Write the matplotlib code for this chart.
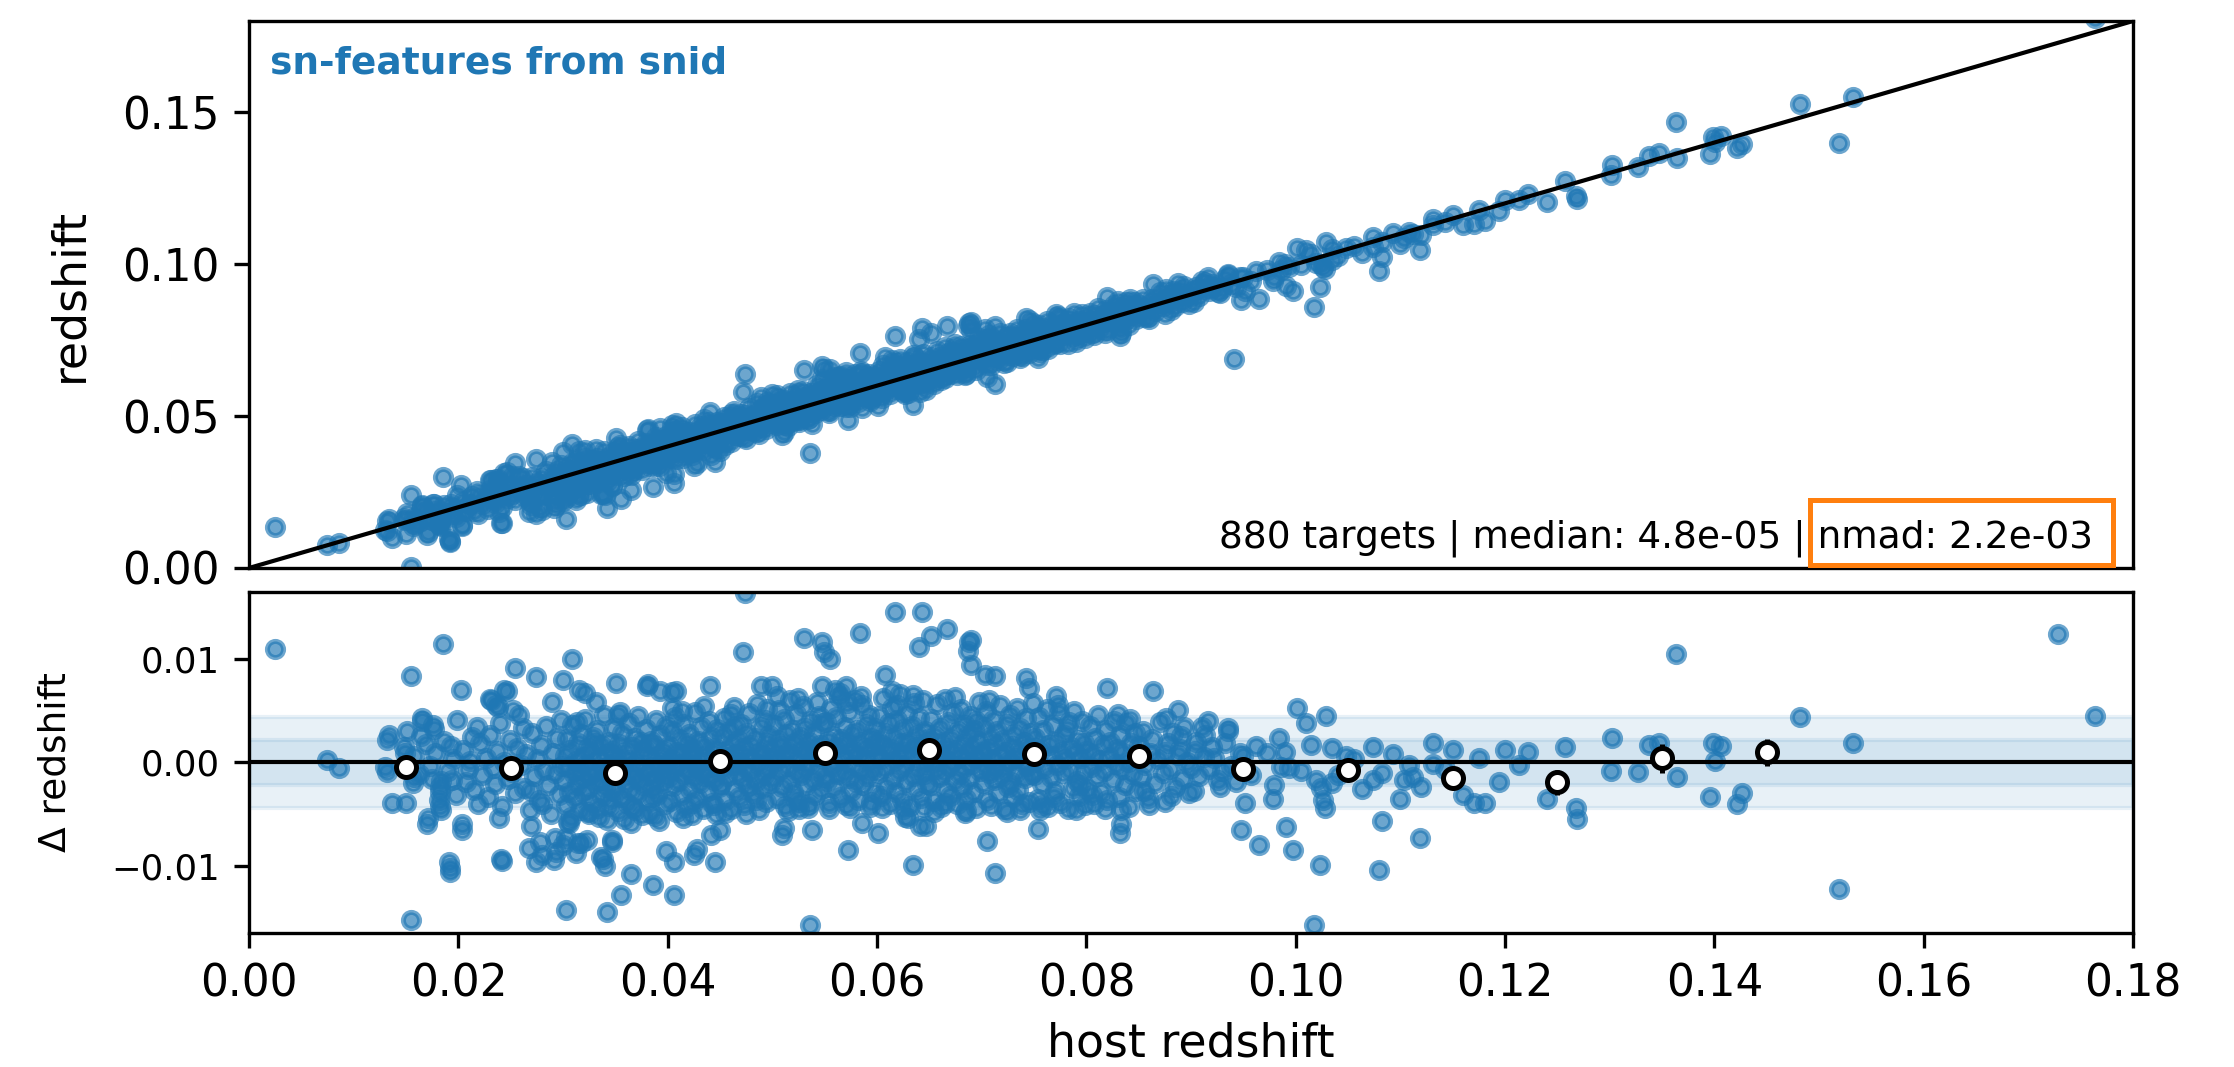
import numpy as np
import matplotlib
matplotlib.use('Agg')
import matplotlib.pyplot as plt
from matplotlib.patches import Rectangle

# all values below in units of 1e-3 (host redshift, redshift - host redshift)
# sparse points read one by one, low redshift side
low_host = [2.5, 18.5, 15.5, 15.5, 7.4, 8.6, 13.2, 13.2, 15.1, 16.5, 17.7, 14.9, 13.7, 15.0, 15.7, 17.0,
            18.1, 18.3, 19.1, 19.2, 19.2, 20.2, 19.9, 19.4, 18.3, 20.3, 21.3, 23.0, 23.8, 24.6, 25.4, 27.4,
            24.1, 26.2, 28.9, 30.0, 30.9, 31.5, 32.1, 33.1, 35.1, 35.2, 27.8, 28.0, 29.3, 30.3, 31.4, 32.3,
            29.2, 30.3, 34.2, 35.5, 36.5, 38.6, 40.6, 34.7, 33.6, 34.0, 39.8, 40.6, 42.8, 44.5, 44.1, 45.0,
            47.4, 47.2, 53.0, 54.7, 54.9, 55.5, 58.4, 61.7, 64.3, 64.0, 60.8, 44.0, 48.9, 50.0, 54.7, 56.0,
            57.0, 38.0, 40.4, 53.6, 63.4, 57.2, 53.8, 50.9, 51.1, 58.6, 60.1, 52.5, 62.7, 64.1, 23.1, 23.6,
            24.4, 38.1, 39.3, 40.8, 41.4, 16.5, 17.6, 13.4, 14.8, 13.0, 15.8, 17.1, 20.3, 18.2, 18.2, 24.2,
            26.7, 27.4, 29.1, 30.0, 31.7, 31.2, 33.8, 34.7, 30.6, 26.9, 42.5]
low_dz = [11.0, 11.5, 8.4, -15.2, 0.2, -0.5, -0.9, 2.2, 3.0, 4.0, 3.2, 0.9, -3.9, -3.9, -2.0, -6.0,
          -3.6, -4.6, -9.6, -10.2, -10.6, 7.0, 4.1, -1.7, -1.8, -6.5, 2.5, 6.1, 5.4, 6.9, 9.1, 8.3,
          -9.3, 3.3, 5.9, 8.0, 10.0, 7.0, 6.7, 5.9, 7.7, 4.6, -7.7, -9.0, -8.7, -7.3, -7.8, -7.5,
          -7.3, -14.3, -14.5, -12.8, -10.8, -11.9, -12.8, -7.5, -9.1, -10.0, -8.6, -9.6, -8.4, -9.6, -7.0, -6.5,
          16.4, 10.7, 12.0, 11.7, 10.7, 10.0, 12.5, 14.6, 14.6, 11.2, 8.5, 7.4, 7.4, 7.4, 7.4, 7.0,
          7.4, 7.4, 6.8, -15.7, -9.9, -8.5, -6.5, -7.0, -6.3, -5.9, -6.8, -4.5, -5.3, -6.1, 6.0, 5.6,
          7.0, 7.6, 6.9, 6.9, 5.0, 4.3, 3.6, 2.7, 1.5, -0.4, -1.4, -5.4, -6.0, -2.9, -4.2, -9.5,
          -8.3, -9.6, -9.4, -8.0, -7.8, -8.8, -9.3, -7.7, -5.9, -6.1, -9.0]

# sparse points read one by one, middle and high redshift side
mid_host = [65.2, 66.7, 68.8, 69.0, 68.7, 69.0, 70.3, 71.3, 74.2, 74.5, 77.1, 82.0, 86.4, 88.8, 91.6, 93.5,
            100.1, 101.0, 102.9, 98.4, 101.5, 103.5, 104.8, 107.4, 113.1, 115.0, 113.1, 116.0, 117.0, 118.1,
            110.0, 108.2, 111.9, 108.0, 102.3, 101.7, 99.7, 99.1, 94.8, 96.5, 97.8, 95.2, 102.6, 102.8, 95.0,
            97.3, 98.6, 99.4, 101.9, 102.4, 103.5, 107.4, 108.2, 110.3, 111.2, 110.8, 71.3, 70.5, 75.4, 83.3,
            83.3, 83.2, 68.4, 64.7, 63.0, 75.8, 79.0, 85.5, 88.1, 90.3, 92.6, 89.0, 90.5, 92.0, 87.5, 90.0,
            93.0, 91.2, 95.7, 96.2, 97.9, 99.0, 100.5, 104.0, 105.6, 106.3, 109.3, 112.0, 114.3, 117.5, 119.4,
            120.0, 94.1]
mid_dz = [12.2, 12.9, 11.7, 11.9, 10.8, 9.4, 8.5, 8.4, 8.2, 7.2, 6.4, 7.2, 6.9, 5.1, 4.0, 3.3,
          5.3, 3.8, 4.5, 2.4, 1.7, 1.4, 0.6, 1.5, 1.9, 1.2, -0.1, -3.1, -3.9, -3.9,
          -3.5, -5.7, -7.3, -10.4, -9.9, -15.7, -8.5, -6.2, -6.5, -8.0, -3.5, -3.9, -3.6, -4.4, 0.6,
          0.9, -0.4, -0.5, -1.7, -2.5, -2.0, -1.7, -1.0, -1.7, -1.4, -0.2, -10.7, -7.6, -6.4, -4.6,
          -6.0, -6.8, -4.9, -6.1, -5.4, -4.1, -4.6, -2.8, -3.2, -2.8, -1.7, 2.6, 2.0, 1.5, 1.0, -0.5,
          -0.8, 0.5, -1.2, 1.6, -2.2, 1.0, -0.8, -1.2, 0.3, -2.6, 0.8, -2.4, -0.6, 0.4, -1.9,
          1.2, -25.4]

tail_host = [121.3, 122.2, 124.0, 125.7, 126.8, 126.9, 130.2, 130.1, 132.7, 133.8, 134.7, 136.3, 136.4,
             139.9, 140.6, 140.1, 139.6, 142.6, 142.2, 148.2, 153.2, 151.9, 172.8, 176.4]
tail_dz = [-0.2, 1.0, -3.5, 1.5, -4.4, -5.5, 2.4, -0.8, -0.9, 1.7, 1.9, 10.5, -1.4,
           1.9, 1.6, 0.1, -3.3, -3.0, -4.0, 4.4, 1.9, -12.2, 12.4, 4.5]

# dense core, estimated
core_host = [15.8, 16.2, 16.9, 17.3, 17.8, 18.2, 18.6, 19.0, 19.5, 19.8, 20.4, 20.7, 21.1, 21.5, 21.8, 16.4,
             17.5, 19.3, 20.9, 21.9,
             22.1, 22.3, 22.6, 22.8, 23.0, 23.3, 23.5, 23.7, 24.0, 24.2, 24.4, 24.7, 24.9, 25.1, 25.4, 25.6,
             25.8, 26.0, 26.3, 26.5, 26.8, 27.0, 27.2, 27.5, 27.7, 27.9, 28.2, 28.4, 28.6, 28.8, 29.0, 29.2,
             29.4, 29.6, 29.8, 29.9, 23.9, 25.2, 26.9, 28.0,
             30.1, 30.2, 30.3, 30.4, 30.5, 30.6, 30.7, 30.8, 30.9, 31.0, 31.1, 31.2, 31.3, 31.4, 31.5, 31.6,
             31.7, 31.8, 31.9, 32.0, 32.1, 32.2, 32.3, 32.4, 32.5, 32.6, 32.7, 32.8, 32.9, 33.0, 33.1, 33.2,
             33.3, 33.4, 33.5, 33.6, 33.7, 33.8, 33.9, 34.0, 34.1, 34.2, 34.3, 34.4, 34.5, 34.6, 34.7, 34.8,
             34.9, 30.45, 31.35, 32.35, 33.45, 34.35, 33.05,
             35.0, 35.1, 35.2, 35.3, 35.4, 35.5, 35.6, 35.7, 35.8, 35.9, 36.0, 36.1, 36.2, 36.3, 36.4, 36.5,
             36.6, 36.7, 36.8, 36.9, 37.0, 37.1, 37.2, 37.3, 37.4, 37.5, 37.6, 37.7, 37.8, 37.9, 38.0, 38.1,
             38.2, 38.3, 38.4, 38.5, 38.6, 38.7, 38.8, 38.9, 39.0, 39.1, 39.2, 39.3, 39.4, 39.5, 39.6, 39.7,
             39.8, 39.9, 35.45, 36.45, 37.45, 38.45, 39.45, 36.85, 38.75,
             40.0, 40.1, 40.2, 40.3, 40.4, 40.5, 40.6, 40.7, 40.8, 40.9, 41.0, 41.1, 41.2, 41.3, 41.4, 41.5,
             41.6, 41.7, 41.8, 41.9, 42.0, 42.1, 42.2, 42.3, 42.4, 42.5, 42.6, 42.7, 42.8, 42.9, 43.0, 43.1,
             43.2, 43.3, 43.4, 43.5, 43.6, 43.7, 43.8, 43.9, 44.0, 44.1, 44.2, 44.3, 44.4, 44.5, 44.6, 44.7,
             44.8, 44.9, 40.45, 41.45, 42.45, 43.45, 44.45, 42.05,
             45.0, 45.1, 45.2, 45.3, 45.4, 45.5, 45.6, 45.7, 45.8, 45.9, 46.0, 46.1, 46.2, 46.3, 46.4, 46.5,
             46.6, 46.7, 46.8, 46.9, 47.0, 47.1, 47.2, 47.3, 47.4, 47.5, 47.6, 47.7, 47.8, 47.9, 48.0, 48.1,
             48.2, 48.3, 48.4, 48.5, 48.6, 48.7, 48.8, 48.9, 49.0, 49.1, 49.2, 49.3, 49.4, 49.5, 49.6, 49.7,
             49.8, 49.9, 45.45, 46.45, 47.45, 48.45, 49.45, 46.05,
             50.0, 50.1, 50.2, 50.3, 50.4, 50.5, 50.6, 50.7, 50.8, 50.9, 51.0, 51.1, 51.2, 51.3, 51.4, 51.5,
             51.6, 51.7, 51.8, 51.9, 52.0, 52.1, 52.2, 52.3, 52.4, 52.5, 52.6, 52.7, 52.8, 52.9, 53.0, 53.1,
             53.2, 53.3, 53.4, 53.5, 53.6, 53.7, 53.8, 53.9, 54.0, 54.1, 54.2, 54.3, 54.4, 54.5, 54.6, 54.7,
             54.8, 54.9, 50.45, 51.45, 52.45, 53.45, 54.45, 52.15,
             55.0, 55.1, 55.2, 55.3, 55.4, 55.5, 55.6, 55.7, 55.8, 55.9, 56.0, 56.1, 56.2, 56.3, 56.4, 56.5,
             56.6, 56.7, 56.8, 56.9, 57.0, 57.1, 57.2, 57.3, 57.4, 57.5, 57.6, 57.7, 57.8, 57.9, 58.0, 58.1,
             58.2, 58.3, 58.4, 58.5, 58.6, 58.7, 58.8, 58.9, 59.0, 59.1, 59.2, 59.3, 59.4, 59.5, 59.6, 59.7,
             59.8, 59.9, 55.45, 56.45, 57.45, 58.45, 59.45, 57.15,
             60.0, 60.1, 60.2, 60.3, 60.4, 60.5, 60.6, 60.7, 60.8, 60.9, 61.0, 61.1, 61.2, 61.3, 61.4, 61.5,
             61.6, 61.7, 61.8, 61.9, 62.0, 62.1, 62.2, 62.3, 62.4, 62.5, 62.6, 62.7, 62.8, 62.9, 63.0, 63.1,
             63.2, 63.3, 63.4, 63.5, 63.6, 63.7, 63.8, 63.9, 64.0, 64.1, 64.2, 64.3, 64.4, 64.5, 64.6, 64.7,
             64.8, 64.9, 60.45, 61.45, 62.45, 63.45, 64.45, 61.95,
             65.0, 65.1, 65.2, 65.3, 65.4, 65.5, 65.6, 65.7, 65.8, 65.9, 66.0, 66.1, 66.2, 66.3, 66.4, 66.5,
             66.6, 66.7, 66.8, 66.9, 67.0, 67.1, 67.2, 67.3, 67.4, 67.5, 67.6, 67.7, 67.8, 67.9, 68.0, 68.1,
             68.2, 68.3, 68.4, 68.5, 68.6, 68.7, 68.8, 68.9, 69.0, 69.1, 69.2, 69.3, 69.4, 69.5, 69.6, 69.7,
             69.8, 69.9, 65.45, 66.45, 67.45, 68.45, 69.45,
             70.0, 70.1, 70.2, 70.3, 70.4, 70.5, 70.6, 70.7, 70.8, 70.9, 71.0, 71.1, 71.2, 71.3, 71.4, 71.5,
             71.6, 71.7, 71.8, 71.9, 72.0, 72.1, 72.2, 72.3, 72.4, 72.5, 72.6, 72.7, 72.8, 72.9, 73.0, 73.1,
             73.2, 73.3, 73.4, 73.5, 73.6, 73.7, 73.8, 73.9, 74.0, 74.1, 74.2, 74.3, 74.4, 74.5, 74.6, 74.7,
             74.8, 74.9, 72.45, 70.65, 73.65,
             75.0, 75.1, 75.3, 75.4, 75.5, 75.7, 75.8, 75.9, 76.0, 76.2, 76.3, 76.4, 76.6, 76.7, 76.8, 77.0,
             77.1, 77.2, 77.4, 77.5, 77.6, 77.8, 77.9, 78.0, 78.2, 78.3, 78.4, 78.5, 78.7, 78.8, 78.9, 79.1,
             79.2, 79.3, 79.5, 79.6, 79.7, 79.8, 79.9, 75.6, 77.3, 79.4, 76.9, 78.1, 75.2,
             80.0, 80.1, 80.3, 80.4, 80.6, 80.7, 80.8, 81.0, 81.1, 81.3, 81.4, 81.6, 81.7, 81.9, 82.0, 82.2,
             82.3, 82.5, 82.6, 82.8, 82.9, 83.1, 83.2, 83.4, 83.5, 83.7, 83.8, 84.0, 84.1, 84.3, 84.4, 84.6,
             84.7, 84.9, 81.8, 83.0, 84.2, 80.5,
             85.0, 85.2, 85.4, 85.6, 85.9, 86.1, 86.3, 86.6, 86.8, 87.0, 87.3, 87.5, 87.8, 88.0, 88.3, 88.5,
             88.8, 89.1, 89.3, 89.6, 89.8, 86.0, 87.6, 88.9,
             90.4, 90.8, 91.3, 91.7, 92.2, 92.8, 93.2, 93.8, 94.3, 94.7, 91.0, 93.5]
core_dz = [0.6, -1.1, 1.8, -0.3, 0.9, -2.4, 2.1, -0.8, 0.3, -3.1, 1.2, -1.9, 0.1, -2.7, 3.4, 2.6,
           -1.6, 1.6, -0.6, -4.0,
           1.9, -1.2, 0.4, -3.3, 2.7, -0.5, -2.1, 1.1, 3.8, -4.2, 0.0, -1.6, 2.2, -0.9, -3.0, 1.4,
           4.6, -0.2, -2.5, 0.8, -4.6, 2.9, -1.3, 0.3, -3.6, 1.7, -0.7, 3.5, -2.2, -5.0, 0.9, -1.0,
           2.4, -3.1, 4.1, -0.3, -5.4, 5.1, -2.8, -4.0,
           -1.8, 0.6, -4.1, 2.3, -0.4, -2.9, 1.2, -5.3, 3.6, -1.1, -3.4, 0.1, -2.2, 1.9, -0.7, -4.6,
           2.8, -1.5, 0.5, -3.0, 4.2, -0.2, -2.6, 1.4, -5.0, -1.2, 0.9, -3.8, 2.5, -0.9, -2.0, 3.1,
           -4.4, 0.3, -1.7, 1.7, -3.2, -0.5, 4.6, -2.4, 0.8, -5.6, -1.0, 2.0, -3.5, -0.1, 1.1, -2.8,
           3.3, -5.8, 3.9, -4.8, -5.3, -4.2, 1.9,
           -2.3, 0.4, -4.7, 1.8, -1.0, -3.3, 2.9, -0.3, -5.5, 1.0, -1.9, -3.9, 0.2, 3.8, -2.7, -0.8,
           1.5, -4.3, -1.4, 2.4, -0.1, -3.0, 4.5, -1.7, 0.7, -5.1, -2.2, 1.3, -0.6, 3.2, -3.6, -1.2,
           0.5, -4.9, 2.1, -0.4, -2.5, 1.7, -1.6, 4.1, -3.1, 0.0, -5.7, 2.7, -0.9, -2.0, 1.1, -4.0,
           3.5, -0.2, 4.9, -5.9, 2.0, -3.3, 0.8, -4.6, -5.2,
           -1.4, 1.6, -3.7, 0.3, 3.0, -2.3, -0.5, 4.4, -4.8, 1.0, -1.8, 2.3, -0.1, -3.1, 0.8, 3.7,
           -1.1, -4.3, 1.9, -0.7, 2.8, -2.6, 0.4, -5.1, 1.3, -1.5, 4.9, -0.3, -3.4, 2.1, 0.0, -2.0,
           3.4, -0.9, -4.5, 1.6, -1.3, 0.6, -2.8, 4.0, -0.4, 2.5, -3.9, 0.9, -1.7, 1.4, -5.0, 3.2,
           -0.6, -2.4, 5.3, -5.4, -3.9, 5.5, -4.1, 0.9,
           0.2, -2.1, 2.6, -0.6, 4.3, -3.6, 1.1, -1.3, 0.5, 3.0, -4.5, 1.8, -0.2, 5.4, -2.7, 0.8,
           -1.0, 2.2, -3.3, 0.0, 3.7, -1.6, 1.4, -4.1, -0.4, 2.9, 0.6, -2.3, 4.8, -0.9, 1.7, -3.0,
           0.3, 2.4, -1.8, 5.7, -0.1, -4.6, 1.0, 3.4, -2.5, 0.7, -1.2, 4.1, -3.8, 1.9, -0.5, 2.7,
           -2.0, 0.4, -4.9, 3.5, -5.0, -3.6, 5.2, 4.7,
           1.3, -1.5, 3.6, 0.1, -3.4, 2.2, 5.1, -0.7, 1.6, -2.4, 0.5, 4.2, -4.2, 2.8, -0.3, 1.0,
           -1.9, 6.0, 0.8, 3.1, -2.9, 1.9, -0.9, 4.7, 0.2, -3.8, 2.5, -1.2, 1.4, 5.5, -0.5, 3.3,
           -2.2, 0.9, -4.4, 2.0, -0.1, 4.0, 1.2, -1.7, 2.9, -3.1, 0.6, 5.9, -0.8, 1.7, -2.6, 3.8,
           0.3, -1.4, 6.4, -4.7, 6.2, -4.0, 4.5, -3.5,
           0.7, 3.9, -1.8, 2.1, -3.9, 1.2, 5.3, -0.4, 2.6, -2.5, 0.0, 4.4, 1.5, -1.1, 6.3, -3.3,
           2.3, 0.4, -0.9, 3.4, -4.1, 1.8, -1.5, 4.9, 0.9, -2.8, 2.8, -0.2, 1.1, 6.0, -1.9, 3.1,
           -3.6, 0.6, 2.0, -0.6, 5.6, -2.2, 1.4, 3.7, -1.3, 0.2, 4.6, -4.3, 2.4, -0.7, 1.6, -2.9,
           3.3, 0.8, -4.5, 6.7, -4.4, 6.4, -3.8, 5.8,
           2.2, -1.0, 4.5, 0.3, -3.2, 1.7, 6.2, -0.5, 2.9, -2.4, 0.9, 3.8, -4.0, 1.3, 5.3, -1.6,
           0.1, 2.5, -2.9, 4.1, 0.6, -0.8, 6.6, 1.9, -3.6, 3.2, -0.2, 1.0, -1.9, 4.8, 2.0, -4.2,
           0.4, 3.5, -1.3, 5.8, 1.5, -2.6, 2.7, -0.6, 4.3, 0.8, -3.4, 1.8, 6.0, -1.1, 3.0, -0.1,
           -2.1, 2.3, -4.4, 6.9, -4.5, 6.5, -4.3, 5.6,
           1.6, -2.2, 4.2, 0.2, -3.7, 2.6, -0.6, 5.7, 1.1, -1.4, 3.3, -4.3, 0.7, 2.0, -0.9, 6.1,
           -2.7, 1.4, 3.9, -0.3, -3.2, 2.3, 0.0, 4.8, -1.8, 1.2, -4.0, 3.0, 0.5, -1.1, 5.2, -2.4,
           1.8, -0.4, 3.6, -3.5, 0.9, 2.7, -1.6, 4.5, -0.1, 1.5, -2.9, 3.1, 0.4, -4.4, 2.1, 5.9,
           -0.8, 1.0, -4.8, -3.9, 6.3, -4.7, 4.0,
           0.8, -2.0, 3.4, -0.2, 5.0, -3.6, 1.3, -1.0, 2.5, -4.2, 0.3, 4.1, -1.7, 1.8, -0.6, 3.0,
           -3.0, 5.6, 0.6, -1.3, 2.2, -4.5, 1.0, -0.4, 3.7, -2.4, 0.1, 4.6, -1.9, 1.6, -3.3, 2.8,
           0.4, -0.9, 5.3, -2.7, 1.1, 3.3, -4.0, 0.0, 2.0, -1.5, 4.3, -0.3, 1.4, -3.8, 2.9, -1.1,
           0.7, 5.8, -4.8, 6.0, -4.6,
           -1.2, 2.4, 0.0, -3.5, 4.4, 1.2, -2.1, 3.1, -0.5, 5.2, -4.3, 1.7, -1.4, 0.6, 3.6, -2.8,
           2.0, -0.2, 4.8, -3.9, 1.0, -1.0, 2.7, 0.3, -4.5, 3.9, -0.7, 1.5, -2.5, 5.0, 0.9, -1.8,
           2.2, -3.2, 0.4, 4.0, -0.9, 1.9, -4.1, -4.6, 5.6, -2.2, -3.3, 3.2, 1.4,
           1.1, -2.6, 3.5, -0.4, 0.7, -4.0, 2.4, -1.3, 4.6, 0.2, -2.9, 1.7, -0.8, 3.1, -3.6, 0.5,
           2.0, -1.7, 4.0, -0.1, 1.3, -3.3, 2.7, -0.6, 0.9, -2.2, 3.8, 0.0, -4.3, 1.9, -1.1, 2.9,
           -2.8, 0.6, -4.5, 4.7, 4.2, -3.1,
           1.6, -1.4, 3.0, -0.2, -3.4, 0.9, 2.3, -2.0, 0.3, 3.9, -1.0, -3.8, 1.9, -0.6, 2.9, -2.4,
           0.7, -1.6, 3.4, 0.0, -3.0, -4.1, 4.3, 1.3,
           1.1, -1.3, 2.7, -0.6, 0.4, -2.4, 1.9, -0.3, -1.9, 0.9, 3.4, 3.0]

# binned medians of the residuals
bin_centers = [15, 25, 35, 45, 55, 65, 75, 85, 95, 105, 115, 125, 135, 145]
bin_median = [-0.4, -0.5, -1.0, 0.1, 0.9, 1.2, 0.8, 0.6, -0.6, -0.7, -1.5, -1.9, 0.4, 1.0]
bin_err = [0.5, 0.4, 0.3, 0.3, 0.3, 0.3, 0.3, 0.3, 0.4, 0.5, 0.7, 1.2, 1.4, 1.3]

n_targets = 880
median_dz = 4.8e-05
nmad = 2.2e-03

host = np.array(low_host + mid_host + tail_host + core_host) * 1e-3
dz = np.array(low_dz + mid_dz + tail_dz + core_dz) * 1e-3
zfit = host + dz

fig = plt.figure(figsize=(2234 / 300, 1067 / 300), dpi=300)
ax = fig.add_axes([0.1115, 0.4677, 0.8433, 0.5126])
axr = fig.add_axes([0.1115, 0.1256, 0.8433, 0.3196])

ax.scatter(host, zfit, s=15, color='C0', alpha=0.65, linewidths=1.2, zorder=2)
ax.plot([0, 0.2], [0, 0.2], color='k', lw=1.0, zorder=4)
ax.set_xlim(0, 0.18)
ax.set_ylim(0, 0.18)
ax.set_yticks([0.0, 0.05, 0.10, 0.15])
ax.tick_params(axis='x', bottom=False, labelbottom=False)
ax.tick_params(axis='y', labelsize=10.5)
ax.set_ylabel('redshift', fontsize=11)
ax.yaxis.set_label_coords(-0.083, 0.5)
ax.text(0.011, 0.955, 'sn-features from snid', transform=ax.transAxes, ha='left', va='top',
        color='C0', fontweight='bold', fontsize=9)
ax.text(0.979, 0.02, '%d targets | median: %.1e | nmad: %.1e' % (n_targets, median_dz, nmad),
        transform=ax.transAxes, ha='right', va='bottom', fontsize=9)
ax.add_patch(Rectangle((0.8286, 0.005), 0.1608, 0.119, transform=ax.transAxes, fill=False,
                       ec='#ff7f0e', lw=1.2, clip_on=False, zorder=6))

axr.axhspan(-nmad, nmad, color='C0', alpha=0.1, zorder=0)
axr.axhspan(-2 * nmad, 2 * nmad, color='C0', alpha=0.1, zorder=0)
axr.scatter(host, dz, s=15, color='C0', alpha=0.65, linewidths=1.2, zorder=2)
axr.axhline(0, color='k', lw=1.0, zorder=4)
axr.errorbar(np.array(bin_centers) * 1e-3, np.array(bin_median) * 1e-3, yerr=np.array(bin_err) * 1e-3,
             fmt='o', mfc='white', mec='k', ecolor='k', ms=4.8, mew=1.2, elinewidth=1.2, zorder=5)
axr.set_xlim(0, 0.18)
axr.set_ylim(-0.0165, 0.0165)
axr.set_yticks([-0.01, 0.0, 0.01])
axr.set_xticks([0.0, 0.02, 0.04, 0.06, 0.08, 0.10, 0.12, 0.14, 0.16, 0.18])
axr.tick_params(axis='x', labelsize=10.5)
axr.tick_params(axis='y', labelsize=8.5)
axr.set_ylabel('Δ redshift', fontsize=9)
axr.yaxis.set_label_coords(-0.093, 0.5)
axr.set_xlabel('host redshift', fontsize=11)

fig.savefig('out.png', dpi=300)
